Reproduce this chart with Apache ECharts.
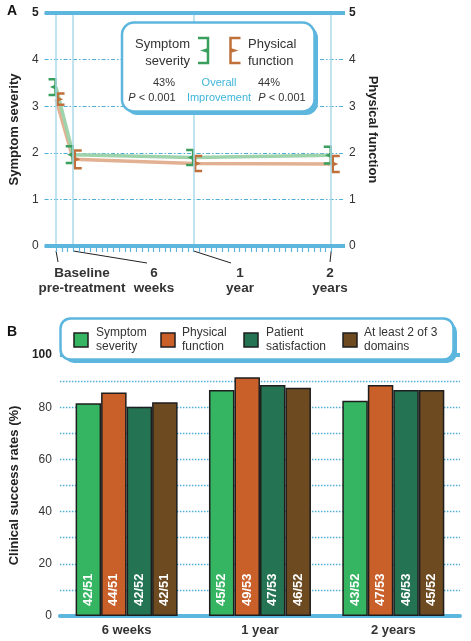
<!DOCTYPE html>
<html><head><meta charset="utf-8">
<script src="https://cdn.jsdelivr.net/npm/echarts@6/dist/echarts.min.js"></script>
<style>html,body{margin:0;padding:0;background:#fff}#c{width:471px;height:641px}</style>
</head><body><div id="c"></div><script>
// ---------- Panel A data ----------
const timeMonths = [0, 1.5, 12, 24];
const timeLabels = ['Baseline\npre-treatment', '6\nweeks', '1\nyear', '2\nyears'];
const symptomMean = [3.41, 1.96, 1.90, 1.95];
const symptomErr = [0.17, 0.18, 0.16, 0.18];
const physicalMean = [3.15, 1.86, 1.77, 1.76];
const physicalErr = [0.12, 0.19, 0.16, 0.17];
const symptomImprovement = '43%';
const physicalImprovement = '44%';
const pText = 'P < 0.001';
// ---------- Panel B data ----------
const periods = ['6 weeks', '1 year', '2 years'];
const seriesNames = ['Symptom\nseverity', 'Physical\nfunction', 'Patient\nsatisfaction', 'At least 2 of 3\ndomains'];
const symptomRate = [81.5, 86.6, 82.5];
const physicalRate = [85.6, 91.5, 88.5];
const satisfactionRate = [80.2, 88.5, 86.6];
const twoOfThreeRate = [81.9, 87.5, 86.6];
const symptomFrac = ['42/51', '45/52', '43/52'];
const physicalFrac = ['44/51', '49/53', '47/53'];
const satisfactionFrac = ['42/52', '47/53', '46/53'];
const twoOfThreeFrac = ['42/51', '46/52', '45/52'];

// ---------- styling ----------
const BLUE = '#5cb6dd', LBLUE = '#acdaea', TXT = '#333', OVERALL = '#3fb5d8', GRID = '#4eaed8';
const FONT = '"Liberation Sans", Arial, sans-serif';
const GREEN_EB = '#3a9e5c', ORANGE_EB = '#c0703a';
const BAR_COLORS = ['#35b462', '#c95f29', '#247352', '#6d4a1f'];

const chart = echarts.init(document.getElementById('c'));

const tickVals = [];
for (let v = 0; v <= 24; v += 0.5) tickVals.push(v);

function bracket(vx, yTop, yBot, side, w, color, z) {
  const mid = (yTop + yBot) / 2;
  const a = {type: 'polyline', shape: {points: [[vx + side * w, yTop], [vx, yTop], [vx, yBot], [vx + side * w, yBot]]},
     style: {stroke: color, lineWidth: 2.5, fill: null}};
  const b = {type: 'polygon', shape: {points: [[vx, mid - 2.5], [vx + side * w * 0.8, mid], [vx, mid + 2.5]]},
     style: {fill: color}};
  if (z != null) { a.z = z; b.z = z; }
  return [a, b];
}
function errRender(side, color) {
  return function (params, api) {
    const x = api.value(0), m = api.value(1), e = api.value(2);
    const top = api.coord([x, m + e]), bot = api.coord([x, m - e]);
    const vx = top[0] + (side < 0 ? -0.5 : 1.5);
    return {type: 'group', children: bracket(vx, top[1], bot[1], side, 7, color)};
  };
}

const rateSets = [symptomRate, physicalRate, satisfactionRate, twoOfThreeRate];
const fracSets = [symptomFrac, physicalFrac, satisfactionFrac, twoOfThreeFrac];

const barSeries = rateSets.map((vals, k) => ({
  type: 'bar', xAxisIndex: 1, yAxisIndex: 2, name: seriesNames[k],
  data: vals, barWidth: 25.5, barGap: '0%',
  itemStyle: {color: BAR_COLORS[k], borderColor: '#1e1e1e', borderWidth: 1.5},
  label: {show: true, position: 'insideBottom', rotate: 90, distance: 10, align: 'left', verticalAlign: 'middle',
    color: '#fff', fontWeight: 'bold', fontSize: 13, fontFamily: FONT,
    formatter: p => fracSets[k][p.dataIndex]},
  z: 3
}));
barSeries[0].markLine = {silent: true, symbol: 'none', label: {show: false},
  lineStyle: {color: BLUE, width: 4, type: 'solid'}, data: [{yAxis: 100}], z: 1};

const option = {
  animation: false,
  textStyle: {fontFamily: FONT},
  grid: [
    {left: 41, top: 13, width: 304, height: 233},
    {left: 53, top: 355, width: 407, height: 261}
  ],
  xAxis: [
    {gridIndex: 0, type: 'value', min: -1, max: 25.2, axisLine: {show: false},
     axisTick: {show: true, customValues: tickVals, length: 6, lineStyle: {color: BLUE, width: 1.2}},
     axisLabel: {show: false}, splitLine: {show: false}},
    {gridIndex: 1, type: 'category', data: periods,
     axisLine: {lineStyle: {color: BLUE, width: 4}}, axisTick: {show: false},
     axisLabel: {fontWeight: 'bold', fontSize: 13, color: TXT, margin: 8}}
  ],
  yAxis: [
    {gridIndex: 0, type: 'value', min: 0, max: 5, interval: 1, position: 'left',
     name: 'Symptom severity', nameLocation: 'middle', nameGap: 22,
     nameTextStyle: {fontWeight: 'bold', fontSize: 13, color: '#222'},
     axisLine: {show: false}, axisTick: {show: false},
     axisLabel: {margin: 6, fontSize: 12, color: TXT, formatter: v => v === 5 ? '{b|5}' : String(v),
       rich: {b: {fontWeight: 'bold', fontSize: 12, color: '#222'}}},
     splitLine: {lineStyle: {color: GRID, type: [4, 2, 1.5, 2], width: 1.2}}},
    {gridIndex: 0, type: 'value', min: 0, max: 5, interval: 1, position: 'right',
     name: 'Physical function', nameLocation: 'middle', nameGap: 17, nameRotate: -90,
     nameTextStyle: {fontWeight: 'bold', fontSize: 13, color: '#222'},
     axisLine: {show: false}, axisTick: {show: false},
     axisLabel: {margin: 4, fontSize: 12, color: TXT, formatter: v => v === 5 ? '{b|5}' : String(v),
       rich: {b: {fontWeight: 'bold', fontSize: 12, color: '#222'}}},
     splitLine: {show: false}},
    {gridIndex: 1, type: 'value', min: 0, max: 100, interval: 10,
     name: 'Clinical success rates (%)', nameLocation: 'middle', nameGap: 35,
     nameTextStyle: {fontWeight: 'bold', fontSize: 13, color: '#222'},
     axisLine: {show: false}, axisTick: {show: false},
     axisLabel: {margin: 8, fontSize: 12, color: TXT,
       formatter: v => v % 20 !== 0 ? '' : (v === 100 ? '{b|100}' : String(v)),
       rich: {b: {fontWeight: 'bold', fontSize: 12, color: '#222'}}},
     splitLine: {lineStyle: {color: GRID, type: [1.5, 1.5], width: 1.3}}}
  ],
  series: [
    {type: 'line', xAxisIndex: 0, yAxisIndex: 0, data: [], z: 1,
     markLine: {silent: true, symbol: 'none', label: {show: false},
       data: timeMonths.map(t => ({xAxis: t, lineStyle: {color: LBLUE, width: 1.5, type: 'solid'}}))
         .concat([{yAxis: 0, lineStyle: {color: BLUE, width: 4, type: 'solid'}},
                  {yAxis: 5, lineStyle: {color: BLUE, width: 4, type: 'solid'}}])}},
    {type: 'line', name: 'phys', xAxisIndex: 0, yAxisIndex: 0, symbol: 'none', z: 2,
     data: timeMonths.map((t, i) => [t, physicalMean[i]]),
     lineStyle: {color: '#e2b092', width: 3.5}},
    {type: 'line', name: 'sym', xAxisIndex: 0, yAxisIndex: 0, symbol: 'none', z: 2,
     data: timeMonths.map((t, i) => [t, symptomMean[i]]),
     lineStyle: {color: '#9fd3ac', width: 3.5}},
    {type: 'custom', xAxisIndex: 0, yAxisIndex: 0, z: 4, renderItem: errRender(-1, GREEN_EB),
     data: timeMonths.map((t, i) => [t, symptomMean[i], symptomErr[i]])},
    {type: 'custom', xAxisIndex: 0, yAxisIndex: 0, z: 4, renderItem: errRender(1, ORANGE_EB),
     data: timeMonths.map((t, i) => [t, physicalMean[i], physicalErr[i]])}
  ].concat(barSeries)
};
chart.setOption(option);

// ---------- annotations ----------
const labelCenterX = [82, 154, 240, 330];
const leaderEnd = [[58, 262], [147, 263], [231, 263], [330, 262]];
const g = [];
g.push({type: 'text', left: 7, top: 4, style: {text: 'A', font: 'bold 14px ' + FONT, fill: '#111'}});
g.push({type: 'text', left: 7, top: 325, style: {text: 'B', font: 'bold 14px ' + FONT, fill: '#111'}});

timeMonths.forEach((t, i) => {
  const px = chart.convertToPixel({xAxisIndex: 0}, t);
  g.push({type: 'line', shape: {x1: px, y1: 251, x2: leaderEnd[i][0], y2: leaderEnd[i][1]},
    style: {stroke: '#222', lineWidth: 1}});
  g.push({type: 'text', x: labelCenterX[i], y: 265.5,
    style: {text: timeLabels[i], font: 'bold 13.5px ' + FONT, fill: '#333', align: 'center',
      verticalAlign: 'top', lineHeight: 15}});
});

// legend box A
g.push({type: 'rect', shape: {x: 125.5, y: 26, width: 192.5, height: 89, r: 12}, style: {fill: BLUE}, z: 10});
g.push({type: 'rect', shape: {x: 122, y: 22.5, width: 192.5, height: 89, r: 12},
  style: {fill: '#fff', stroke: BLUE, lineWidth: 2.5}, z: 11});
g.push({type: 'text', x: 190, y: 36, z: 12, style: {text: 'Symptom\nseverity', font: '13px ' + FONT,
  fill: '#333', align: 'right', verticalAlign: 'top', lineHeight: 16.7}});
g.push({type: 'text', x: 248, y: 36, z: 12, style: {text: 'Physical\nfunction', font: '13px ' + FONT,
  fill: '#333', align: 'left', verticalAlign: 'top', lineHeight: 16.7}});
bracket(208, 38, 63, -1, 10, GREEN_EB, 12).forEach(e => g.push(e));
bracket(230.5, 38, 63, 1, 10, ORANGE_EB, 12).forEach(e => g.push(e));
g.push({type: 'text', x: 164, y: 83, z: 12, style: {text: symptomImprovement, font: '11px ' + FONT,
  fill: '#333', align: 'center', verticalAlign: 'middle'}});
g.push({type: 'text', x: 269, y: 83, z: 12, style: {text: physicalImprovement, font: '11px ' + FONT,
  fill: '#333', align: 'center', verticalAlign: 'middle'}});
const pRich = {i: {fontStyle: 'italic', fontSize: 11, fontFamily: FONT, fill: '#333'}, n: {fontSize: 11, fontFamily: FONT, fill: '#333'}};
g.push({type: 'text', x: 152, y: 98, z: 12, style: {text: '{i|P}{n|' + pText.slice(1) + '}', rich: pRich,
  align: 'center', verticalAlign: 'middle'}});
g.push({type: 'text', x: 282, y: 98, z: 12, style: {text: '{i|P}{n|' + pText.slice(1) + '}', rich: pRich,
  align: 'center', verticalAlign: 'middle'}});
g.push({type: 'text', x: 219, y: 90.5, z: 12, style: {text: 'Overall\nImprovement', font: '11px ' + FONT,
  fill: OVERALL, align: 'center', verticalAlign: 'middle', lineHeight: 15}});

// legend box B
g.push({type: 'rect', shape: {x: 64, y: 322, width: 393, height: 41, r: 10}, style: {fill: BLUE}, z: 10});
g.push({type: 'rect', shape: {x: 60.5, y: 318.5, width: 393, height: 41, r: 10},
  style: {fill: '#fff', stroke: BLUE, lineWidth: 2.5}, z: 11});
const swX = [74, 161, 244, 343];
const txX = [96, 182, 266, 364];
seriesNames.forEach((n, k) => {
  g.push({type: 'rect', z: 12, shape: {x: swX[k], y: 333, width: 14, height: 14},
    style: {fill: BAR_COLORS[k], stroke: '#1e1e1e', lineWidth: 1.5}});
  g.push({type: 'text', z: 12, x: txX[k], y: 325.7, style: {text: n, font: '12px ' + FONT, fill: '#333',
    align: 'left', verticalAlign: 'top', lineHeight: 14}});
});

chart.setOption({graphic: g});
</script></body></html>
